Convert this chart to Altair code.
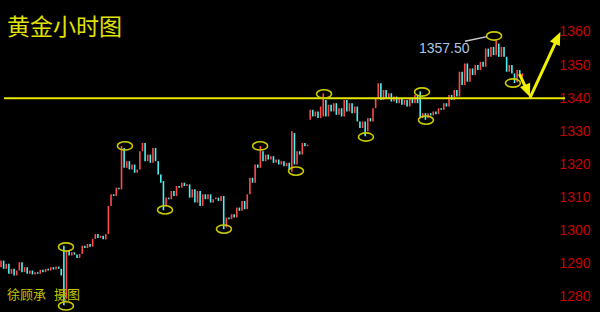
import altair as alt
import pandas as pd

# ---- data (hourly gold candles) ----
opens = [1289, 1291, 1288.5, 1290, 1287, 1288.5, 1286.5, 1288, 1290.5, 1287.5, 1289, 1287, 1288, 1286.8, 1287.5, 1287, 1288.2, 1287.5, 1288.5, 1288, 1289, 1288.3, 1289.2, 1288.5,
         1286.5, 1281, 1294, 1292.5, 1293.5, 1292.8, 1291.8, 1293, 1295.5, 1294.8, 1296, 1295.2, 1297.5, 1299, 1297.8, 1298.5, 1297.4,
         1299, 1307.5, 1311, 1310.5, 1313, 1312.5, 1325, 1319, 1321, 1318.5, 1320, 1317.5, 1318.5, 1324, 1326.5, 1321, 1323, 1320.5, 1325, 1321, 1317, 1314.5,
         1307.5, 1310, 1309.5, 1312, 1310.5, 1313.5, 1313, 1314.5, 1313.5, 1314, 1310, 1312.5, 1308.5, 1312, 1307.5, 1311, 1309.5, 1311, 1308.5, 1309.5, 1310, 1309,
         1310.5, 1301, 1304, 1303.5, 1305, 1304, 1307, 1306, 1309, 1306.5, 1311, 1316, 1314.5, 1320, 1319, 1324, 1321, 1323, 1321.5, 1322.5, 1320.5, 1321.5, 1320, 1321, 1319.5, 1320.5,
         1318.5, 1329.5, 1320, 1324, 1323, 1326.5, 1325.5,
         1333.5, 1336.5, 1334.5, 1336, 1334, 1337.5, 1339.5, 1334.5, 1338, 1336, 1338.5, 1335, 1337, 1334.5, 1339.5, 1336, 1338.5, 1335.5,
         1337.5, 1333, 1331, 1333, 1330, 1334, 1333, 1337, 1340, 1344.5, 1339.5, 1342.5, 1340, 1341.5, 1339, 1340.5, 1338.5, 1340, 1338, 1339.5, 1337.5, 1340, 1338.5, 1341,
         1338.5, 1334, 1335.5, 1334, 1335.5, 1334.8, 1336, 1335.2, 1337, 1336.5, 1338.5, 1337.5, 1341, 1339.5, 1342.5,
         1340.5, 1348, 1344, 1350.5, 1345, 1349, 1347, 1350, 1348.5, 1351, 1349.5, 1355, 1352.5, 1355.5, 1353, 1356.5, 1352.5, 1355.5, 1352.5, 1348, 1350, 1347.5, 1344.8, 1348.5, 1346.5]

closes = [1291, 1288.5, 1290, 1287, 1288.5, 1286.5, 1288, 1290.5, 1287.5, 1289, 1287, 1288, 1286.8, 1287.5, 1287, 1288.2, 1287.5, 1288.5, 1288, 1289, 1288.3, 1289.2, 1288.5, 1286.5,
          1281, 1294, 1292.5, 1293.5, 1292.8, 1291.8, 1293, 1295.5, 1294.8, 1296, 1295.2, 1297.5, 1299, 1297.8, 1298.5, 1297.4, 1299,
          1307.5, 1311, 1310.5, 1313, 1312.5, 1325, 1319, 1321, 1318.5, 1320, 1317.5, 1318.5, 1324, 1326.5, 1321, 1323, 1320.5, 1325, 1321, 1317, 1314.5, 1307.5,
          1310, 1309.5, 1312, 1310.5, 1313.5, 1313, 1314.5, 1313.5, 1314, 1310, 1312.5, 1308.5, 1312, 1307.5, 1311, 1309.5, 1311, 1308.5, 1309.5, 1310, 1309, 1310.5,
          1301, 1304, 1303.5, 1305, 1304, 1307, 1306, 1309, 1306.5, 1311, 1316, 1314.5, 1320, 1319, 1324, 1321, 1323, 1321.5, 1322.5, 1320.5, 1321.5, 1320, 1321, 1319.5, 1320.5, 1318.5,
          1329.5, 1320, 1324, 1323, 1326.5, 1325.5, 1326,
          1336.5, 1334.5, 1336, 1334, 1337.5, 1339.5, 1334.5, 1338, 1336, 1338.5, 1335, 1337, 1334.5, 1339.5, 1336, 1338.5, 1335.5, 1337.5,
          1333, 1331, 1333, 1330, 1334, 1333, 1337, 1340, 1344.5, 1339.5, 1342.5, 1340, 1341.5, 1339, 1340.5, 1338.5, 1340, 1338, 1339.5, 1337.5, 1340, 1338.5, 1341, 1338.5,
          1334, 1335.5, 1334, 1335.5, 1334.8, 1336, 1335.2, 1337, 1336.5, 1338.5, 1337.5, 1341, 1339.5, 1342.5, 1340.5,
          1348, 1344, 1350.5, 1345, 1349, 1347, 1350, 1348.5, 1351, 1349.5, 1355, 1352.5, 1355.5, 1353, 1356.5, 1352.5, 1355.5, 1352.5, 1348, 1350, 1347.5, 1344.8, 1348.5, 1346.5, 1347.5]

wick_idx = [24, 25, 46, 62, 85, 99, 111, 123, 139, 160, 162, 189, 196]
wick_high = [1295.5, 1294, 1325.6, 1315, 1309, 1325.6, 1330, 1341.5, 1331, 1342, 1335.5, 1357.5, 1347.5]
wick_low = [1277.5, 1279.5, 1312.5, 1306.2, 1300.5, 1319, 1317.8, 1334.5, 1328.5, 1334, 1333.5, 1353, 1344.6]

circle_idx = [24.8, 24.8, 47.3, 62.6, 85.1, 98.9, 112.6, 123.3, 139.3, 160.7, 162.2, 188.2, 195.4]
circle_price = [1295.1, 1277.3, 1325.6, 1306.3, 1300.5, 1325.6, 1318.0, 1341.3, 1328.3, 1341.9, 1333.4, 1358.8, 1344.6]

support_price = 1340
support_span = [1.15, 215.3]

arrow_id = ["a", "a", "b", "b"]
arrow_idx = [197.9, 201.0, 201.9, 212.4]
arrow_price = [1347.3, 1342.0, 1340.1, 1358.1]
head_idx = [201.9, 213.5]
head_price = [1340.4, 1360.0]
head_angle = [158, 25]

peak_label = "1357.50"
peak_label_pos = [159.5, 1354.9]
peak_line_idx = [177.1, 185.5]
peak_line_price = [1357.2, 1358.6]

y_ticks = [1280, 1290, 1300, 1310, 1320, 1330, 1340, 1350, 1360]

# ---- tables ----
wick_map = {k: (h, l) for k, h, l in zip(wick_idx, wick_high, wick_low)}
rows = []
for i, (o, c) in enumerate(zip(opens, closes)):
    wh, wl = wick_map.get(i, (max(o, c), min(o, c)))
    rows.append({"i": i, "lo": min(o, c, wl), "hi": max(o, c, wh),
                 "dir": "up" if c >= o else "down"})
candles = pd.DataFrame(rows)

xscale = alt.Scale(domain=[-0.3817, 228.63], nice=False, zero=False)
yscale = alt.Scale(domain=[1275.47, 1369.66], nice=False, zero=False)
yaxis = alt.Axis(orient="right", values=y_ticks, format="d", offset=-10, labelPadding=0, tickSize=0,
                 ticks=False, domain=False, grid=False, title=None,
                 labelAlign="right", labelBaseline="middle", labelColor="#c80000",
                 labelFont="Liberation Sans", labelFontSize=14)

def X(f):
    return alt.X(f, scale=xscale, axis=None)

def Y(f):
    return alt.Y(f, scale=yscale, axis=yaxis)

bars = alt.Chart(candles).mark_rule(strokeWidth=1.6).encode(
    x=X("i:Q"), y=Y("lo:Q"), y2="hi:Q",
    color=alt.Color("dir:N", scale=alt.Scale(domain=["up", "down"], range=["#ff4a4a", "#4cf2f2"]), legend=None),
)

support = alt.Chart(pd.DataFrame({"x": [support_span[0]], "x2": [support_span[1]], "p": [support_price]})).mark_rule(
    color="#e6e600", strokeWidth=2).encode(x=X("x:Q"), x2="x2:Q", y=Y("p:Q"))

ellipse = "M -1 0 A 1 0.55 0 1 1 1 0 A 1 0.55 0 1 1 -1 0 Z"
circles = alt.Chart(pd.DataFrame({"i": circle_idx, "p": circle_price})).mark_point(
    shape=ellipse, size=225, filled=False, color="#caca00", strokeWidth=1.6, opacity=1).encode(
    x=X("i:Q"), y=Y("p:Q"))

shafts = alt.Chart(pd.DataFrame({"id": arrow_id, "i": arrow_idx, "p": arrow_price})).mark_line(
    color="#f0f000", strokeWidth=3).encode(x=X("i:Q"), y=Y("p:Q"), detail="id:N")

heads = alt.Chart(pd.DataFrame({"i": head_idx, "p": head_price, "a": head_angle})).mark_point(
    shape="M 0 0 L 0.42 1 L -0.42 1 Z", size=676, filled=True, color="#f0f000", opacity=1).encode(
    x=X("i:Q"), y=Y("p:Q"), angle=alt.Angle("a:Q", scale=None))

peak_line = alt.Chart(pd.DataFrame({"i": peak_line_idx, "p": peak_line_price})).mark_line(
    color="#cfcfcf", strokeWidth=1.5).encode(x=X("i:Q"), y=Y("p:Q"))

peak_text = alt.Chart(pd.DataFrame({"i": [peak_label_pos[0]], "p": [peak_label_pos[1]], "t": [peak_label]})).mark_text(
    align="left", baseline="middle", font="Liberation Sans", fontSize=14, color="#a9c6e2").encode(
    x=X("i:Q"), y=Y("p:Q"), text="t:N")

title = alt.Chart(pd.DataFrame({"t": ["黄金小时图"]})).mark_text(
    align="left", baseline="alphabetic", font="Noto Sans CJK SC", fontSize=23, color="#e2e200").encode(
    x=alt.value(7), y=alt.value(35), text="t:N")

author1 = alt.Chart(pd.DataFrame({"t": ["徐顾承"]})).mark_text(
    align="left", baseline="alphabetic", font="Noto Sans CJK SC", fontSize=13, color="#c2c200").encode(
    x=alt.value(7), y=alt.value(299), text="t:N")
author2 = alt.Chart(pd.DataFrame({"t": ["摄图"]})).mark_text(
    align="left", baseline="alphabetic", font="Noto Sans CJK SC", fontSize=13, color="#c2c200").encode(
    x=alt.value(54), y=alt.value(299), text="t:N")

chart = alt.layer(bars, support, circles, peak_line, peak_text, shafts, heads, title, author1, author2).properties(
    width=600, height=312, autosize=alt.AutoSizeParams(type="none"), padding=0, background="black"
).configure_view(stroke=None)

chart.save("out.html", embed_options={"renderer": "svg", "actions": False})
